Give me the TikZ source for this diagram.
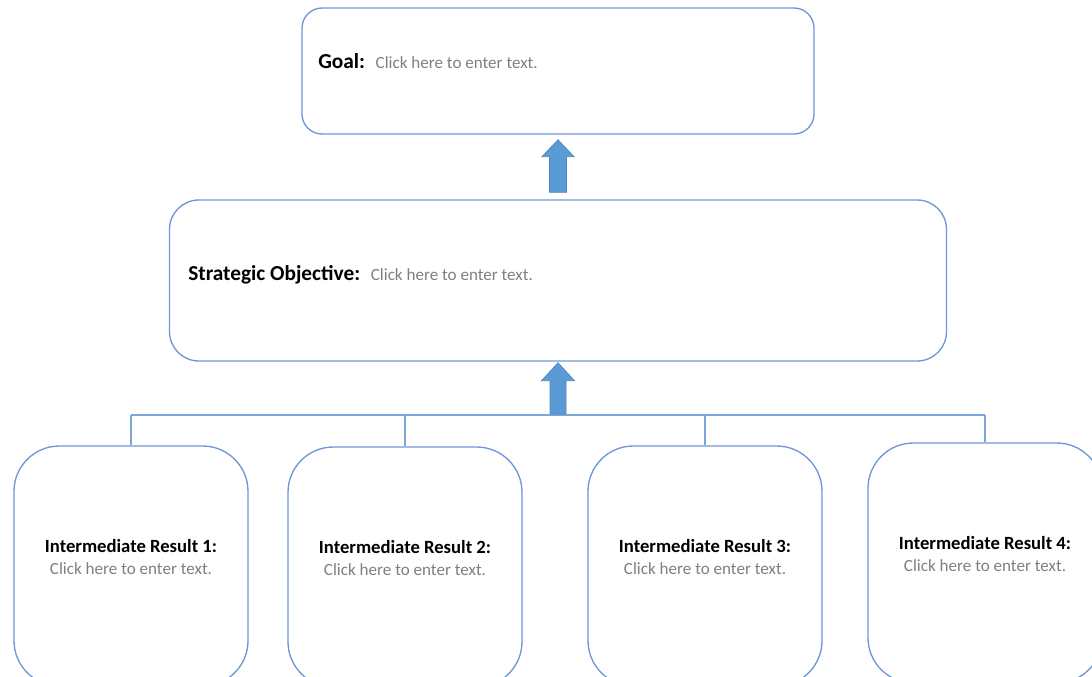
\documentclass[tikz,border=0pt]{standalone}
\usepackage{fontspec}
\setmainfont{Carlito}
\usepackage{tikz}
\usetikzlibrary{calc}
\definecolor{boxblue}{HTML}{7096D8}
\definecolor{linkblue}{HTML}{7FA6DB}
\definecolor{arrowfill}{HTML}{5B9BD5}
\definecolor{arrowline}{HTML}{4F86BE}
\definecolor{clickgrey}{HTML}{7F7F7F}

\begin{document}
\begin{tikzpicture}[x=0.75pt, y=-0.75pt,
  box/.style={draw=boxblue, line width=1pt, rounded corners=#1, inner sep=0pt},
  irbox/.style={box=34pt, minimum width=175.5pt, minimum height=180pt},
  headtext/.style={anchor=base west, inner sep=0pt, font=\fontsize{16}{19}\selectfont\bfseries},
  irtext/.style={anchor=base, inner sep=0pt, align=center, font=\fontsize{14}{16.5}\selectfont\bfseries},
  link/.style={draw=linkblue, line width=0.9pt},
  blockarrow/.style={fill=arrowfill, draw=arrowline, line width=0.5pt}
]
  \clip (0,0) rectangle (1092,676);

  \node[box=15pt, minimum width=384pt, minimum height=94.5pt] (goal) at (558,71) {};
  \node[box=22pt, minimum width=582.75pt, minimum height=120.75pt] (so) at (558,280.5) {};
  \coordinate (bus) at (558,415);

  \node[headtext] (goaltext) at (318,68) {Goal:\hspace{8pt}{\fontsize{12.8}{15}\selectfont\mdseries\color{clickgrey}Click here to enter text.}};
  \node[headtext] (sotext) at (188,280) {Strategic Objective:\hspace{8pt}{\fontsize{12.8}{15}\selectfont\mdseries\color{clickgrey}Click here to enter text.}};

  \foreach \i/\x/\y in {1/131/566, 2/405/567, 3/705/566, 4/985/563} {
    \node[irbox] (ir\i) at (\x,\y) {};
    \node[irtext] (ir\i text) at (\x,\y+8) {Intermediate Result \i:\\{\fontsize{12.8}{15}\selectfont\mdseries\color{clickgrey}Click here to enter text.}};
    \draw[link] (ir\i.north) -- (ir\i.north |- bus);
  }
  \draw[link] (ir1.north |- bus) -- (ir4.north |- bus);

  % block arrows
  \filldraw[blockarrow] ($(so.north)+(-8.5,-7)$) -- ($(goal.south)+(-8.5,22)$) -- ($(goal.south)+(-16,22)$)
    -- ($(goal.south)+(0,5)$) -- ($(goal.south)+(16,22)$) -- ($(goal.south)+(8.5,22)$) -- ($(so.north)+(8.5,-7)$) -- cycle;
  \filldraw[blockarrow] ($(bus)+(-8,-1)$) -- ($(so.south)+(-8,19)$) -- ($(so.south)+(-16.5,19)$)
    -- ($(so.south)+(0,1)$) -- ($(so.south)+(16.5,19)$) -- ($(so.south)+(8,19)$) -- ($(bus)+(8,-1)$) -- cycle;
\end{tikzpicture}
\end{document}
